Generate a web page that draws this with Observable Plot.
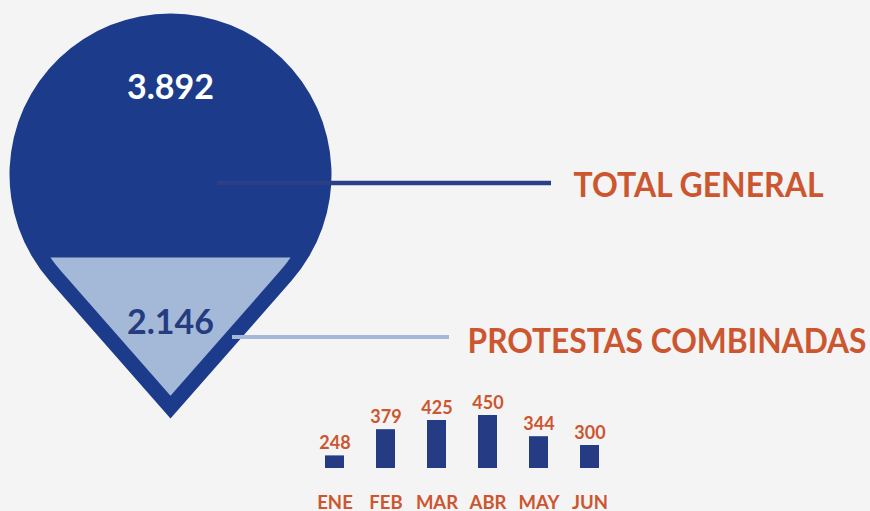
<!DOCTYPE html>
<html><head><meta charset="utf-8">
<script src="https://cdn.jsdelivr.net/npm/d3@7"></script>
<script src="https://cdn.jsdelivr.net/npm/@observablehq/plot@0.6"></script>
<style>
html,body{margin:0;padding:0;background:#f4f4f4;}
#chart{position:relative;width:870px;height:511px;background:#f4f4f4;overflow:hidden;font-family:Lato,sans-serif;}
#chart svg{position:absolute;}
</style></head><body><div id="chart"></div>
<script>
// ---- data ----
const totalLabels = ["TOTAL GENERAL", "PROTESTAS COMBINADAS"];
const totalValues = [3892, 2146];
const months = ["ENE", "FEB", "MAR", "ABR", "MAY", "JUN"];
const monthValues = [248, 379, 425, 450, 344, 300];

// ---- style / layout ----
const C = {
  bg: "#f4f4f4", pin: "#1c3c8b", light: "#a3b9d7", line1: "#2b3f86",
  orange: "#cc5630", num2: "#253c80", bar: "#253b84"
};
const PIN = {cx: 170, cy: 174, r: 161, tipRatio: 1.5155, border: 15, cut: 257};
const LAYOUT = {
  valueY: [88, 323],
  leaderY: [182.5, 336.5], leaderX1: [217, 232], leaderX2: [551, 449],
  labelX: [573, 467], labelY: [186, 342], labelWidth: [250, 399]
};
const FONT = "Lato, sans-serif";

const fmt = d3.formatLocale({decimal: ",", thousands: ".", grouping: [3], currency: ["", "€"]}).format(",d");

function pinPath(ctx, r, tipRatio, cutY) {
  const d = r * tipRatio;
  const a = Math.acos(r / d);
  const tx = r * Math.sin(a), ty = r * Math.cos(a);
  if (cutY == null) {
    ctx.moveTo(0, d);
    ctx.lineTo(-tx, ty);
    ctx.arc(0, 0, r, Math.PI / 2 + a, 2.5 * Math.PI - a, false);
    ctx.closePath();
  } else {
    const cx = Math.sqrt(r * r - cutY * cutY);
    const th = Math.asin(cutY / r);
    ctx.moveTo(-cx, cutY);
    ctx.arc(0, 0, r, Math.PI - th, Math.PI / 2 + a, true);
    ctx.lineTo(0, d);
    ctx.lineTo(tx, ty);
    ctx.arc(0, 0, r, Math.PI / 2 - a, th, true);
    ctx.closePath();
  }
}
const outerSymbol = {draw(ctx, size) { pinPath(ctx, Math.sqrt(size / Math.PI), PIN.tipRatio); }};
const innerSymbol = {draw(ctx, size) { pinPath(ctx, Math.sqrt(size / Math.PI), PIN.tipRatio, PIN.cut - PIN.cy); }};

const totals = totalLabels.map((label, i) => ({label, value: totalValues[i], i}));
const monthData = months.map((month, i) => ({month, value: monthValues[i]}));

const main = Plot.plot({
  width: 870, height: 511, margin: 0,
  style: {background: "transparent", fontFamily: FONT, overflow: "visible"},
  x: {domain: [0, 870], range: [0, 870], axis: null},
  y: {domain: [0, 511], range: [0, 511], axis: null},
  marks: [
    Plot.dot([PIN], {x: "cx", y: "cy", r: PIN.r, symbol: outerSymbol, fill: C.pin, stroke: null}),
    Plot.dot([PIN], {x: "cx", y: "cy", r: PIN.r - PIN.border, symbol: innerSymbol, fill: C.light, stroke: null}),
    Plot.ruleY([totals[0]], {y: d => LAYOUT.leaderY[d.i], x1: d => LAYOUT.leaderX1[d.i], x2: d => LAYOUT.leaderX2[d.i], stroke: C.line1, strokeWidth: 4.5}),
    Plot.ruleY([totals[1]], {y: d => LAYOUT.leaderY[d.i], x1: d => LAYOUT.leaderX1[d.i], x2: d => LAYOUT.leaderX2[d.i], stroke: C.light, strokeWidth: 4}),
    Plot.text([totals[0]], {x: () => PIN.cx, y: d => LAYOUT.valueY[d.i], text: d => fmt(d.value), fill: "white", fontSize: 34, fontWeight: 700, fontFamily: FONT}),
    Plot.text([totals[1]], {x: () => PIN.cx, y: d => LAYOUT.valueY[d.i], text: d => fmt(d.value), fill: C.num2, fontSize: 34, fontWeight: 700, fontFamily: FONT}),
    Plot.text(totals, {x: d => LAYOUT.labelX[d.i], y: d => LAYOUT.labelY[d.i], text: "label", textAnchor: "start", fill: C.orange, fontSize: 34, fontWeight: 700, fontFamily: FONT})
  ]
});
main.style.left = "0px"; main.style.top = "0px";
// condense the two category labels to the reference widths
main.querySelectorAll("text").forEach(t => {
  const k = totalLabels.indexOf(t.textContent);
  if (k >= 0) {
    t.setAttribute("textLength", LAYOUT.labelWidth[k]);
    t.setAttribute("lengthAdjust", "spacingAndGlyphs");
  }
});

const bars = Plot.plot({
  width: 320, height: 121, marginTop: 25, marginBottom: 43, marginLeft: 0, marginRight: 0,
  style: {background: "transparent", fontFamily: FONT, overflow: "visible"},
  x: {type: "band", domain: months, range: [22.5, 300.5], paddingInner: 0.633, paddingOuter: 0, axis: null},
  y: {domain: [185, 450], clamp: true, axis: null},
  marks: [
    Plot.barY(monthData, {x: "month", y: "value", fill: C.bar}),
    Plot.text(monthData, {x: "month", y: "value", text: d => String(d.value), dy: -12.5, fill: C.orange, fontSize: 18, fontWeight: 700, fontFamily: FONT}),
    Plot.text(monthData, {x: "month", text: "month", frameAnchor: "bottom", lineAnchor: "middle", dy: 34.5, fill: C.orange, fontSize: 18.5, fontWeight: 700, fontFamily: FONT})
  ]
});
bars.style.left = "300px"; bars.style.top = "390px";

const root = document.getElementById("chart");
root.append(main, bars);
</script>
</body></html>
